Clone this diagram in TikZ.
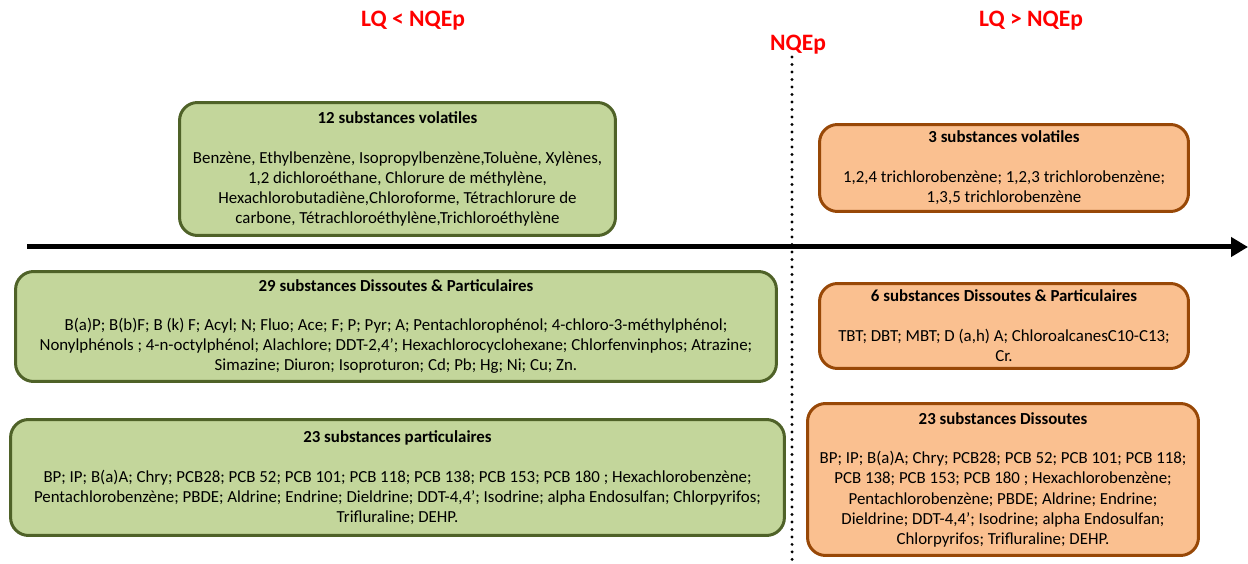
\documentclass[tikz,border=0pt]{standalone}
\usepackage{fontspec}
\setmainfont{Carlito}
\usetikzlibrary{arrows.meta}
\definecolor{vertfond}{HTML}{C3D69B}
\definecolor{vertbord}{HTML}{4F6228}
\definecolor{orfond}{HTML}{FAC090}
\definecolor{orbord}{HTML}{984807}
\definecolor{rouge}{HTML}{FF0000}
\begin{document}
\begin{tikzpicture}[x=0.02cm,y=-0.02cm,
		boite/.style={rectangle,rounded corners=0.36cm,line width=0.06cm,align=center,inner sep=0pt,font=\fontsize{9.6}{11.4}\selectfont},
		boiteverte/.style={boite,draw=vertbord,fill=vertfond},
		boiteorange/.style={boite,draw=orbord,fill=orfond},
		titre/.style={text=rouge,inner sep=0pt,font=\bfseries\fontsize{13.4}{15}\selectfont}]
		\useasboundingbox (0,0) rectangle (1248,564);
		% Titres
		\node[titre] (lqinf) at (413,21) {LQ < NQEp};
		\node[titre] (nqep) at (798,45) {NQEp};
		\node[titre] (lqsup) at (1031,21) {LQ > NQEp};
		% Axe et seuil
		\coordinate (debut) at (27,247);
		\coordinate (fin) at (1248,247);
		\draw[line width=0.1cm,-{Triangle[length=0.34cm,width=0.38cm]}] (debut) -- (fin);
		\coordinate (haut) at (792,57);
		\coordinate (bas) at (792,562);
		\draw[line width=0.065cm,line cap=round,dash pattern=on 0pt off 0.15cm] (haut) -- (bas);
		% LQ < NQEp
		\node[boiteverte,minimum width=8.72cm,minimum height=2.66cm] (vol12) at (397.5,169) {\textbf{12 substances volatiles}\\[11.3pt]
			Benzène, Ethylbenzène, Isopropylbenzène,Toluène, Xylènes,\\
			1,2 dichloroéthane, Chlorure de méthylène,\\
			Hexachlorobutadiène,Chloroforme, Tétrachlorure de\\
			carbone, Tétrachloroéthylène,Trichloroéthylène};
		\node[boiteverte,minimum width=15.22cm,minimum height=2.2cm] (dp29) at (396,326.5) {\textbf{29 substances Dissoutes \& Particulaires}\\[11.3pt]
			B(a)P; B(b)F; B (k) F; Acyl; N; Fluo; Ace; F; P; Pyr; A; Pentachlorophénol; 4-chloro-3-méthylphénol;\\
			Nonylphénols ; 4-n-octylphénol; Alachlore; DDT-2,4’; Hexachlorocyclohexane; Chlorfenvinphos; Atrazine;\\
			Simazine; Diuron; Isoproturon; Cd; Pb; Hg; Ni; Cu; Zn.};
		\node[boiteverte,minimum width=15.48cm,minimum height=2.32cm] (part23) at (397.5,477.5) {\textbf{23 substances particulaires}\\[11.3pt]
			BP; IP; B(a)A; Chry; PCB28; PCB 52; PCB 101; PCB 118; PCB 138; PCB 153; PCB 180 ; Hexachlorobenzène;\\
			Pentachlorobenzène; PBDE; Aldrine; Endrine; Dieldrine; DDT-4,4’; Isodrine; alpha Endosulfan; Chlorpyrifos;\\
			Trifluraline; DEHP.};
		% LQ > NQEp
		\node[boiteorange,minimum width=7.38cm,minimum height=1.74cm] (vol3) at (1004,168) {\textbf{3 substances volatiles}\\[11.3pt]
			1,2,4 trichlorobenzène; 1,2,3 trichlorobenzène;\\
			1,3,5 trichlorobenzène};
		\node[boiteorange,minimum width=7.38cm,minimum height=1.7cm] (dp6) at (1004,326) {\textbf{6 substances Dissoutes \& Particulaires}\\[11.3pt]
			TBT; DBT; MBT; D (a,h) A; ChloroalcanesC10-C13;\\
			Cr.};
		\node[boiteorange,minimum width=7.82cm,minimum height=3.04cm] (diss23) at (1003,479.5) {\textbf{23 substances Dissoutes}\\[11.3pt]
			BP; IP; B(a)A; Chry; PCB28; PCB 52; PCB 101; PCB 118;\\
			PCB 138; PCB 153; PCB 180 ; Hexachlorobenzène;\\
			Pentachlorobenzène; PBDE; Aldrine; Endrine;\\
			Dieldrine; DDT-4,4’; Isodrine; alpha Endosulfan;\\
			Chlorpyrifos; Trifluraline; DEHP.};
\end{tikzpicture}
\end{document}
